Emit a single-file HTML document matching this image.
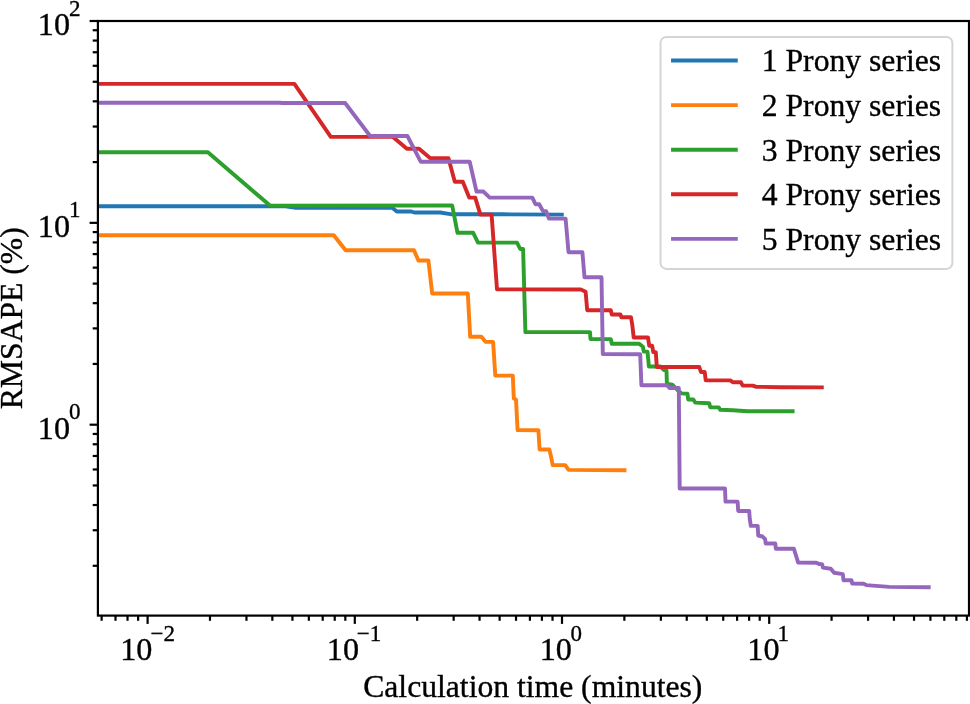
<!DOCTYPE html>
<html><head><meta charset="utf-8"><style>
html,body{margin:0;padding:0;background:#fff;}
svg{display:block;will-change:transform;}
text{font-family:"Liberation Serif", serif;stroke:#000;stroke-width:0.35;paint-order:stroke;}
</style></head><body><svg width="970" height="704" viewBox="0 0 970 704"><rect x="0" y="0" width="970" height="704" fill="#fff"/><defs><clipPath id="ax"><rect x="97.9" y="21.0" width="871.1" height="594.6"/></clipPath></defs><g fill="none" stroke-width="3.9" stroke-linejoin="round" stroke-linecap="square" clip-path="url(#ax)"><polyline stroke="#1f77b4" points="90.0,206.2 285.5,206.2 296.0,207.8 392.2,207.8 396.8,211.5 411.2,211.5 414.3,212.5 440.1,212.5 450.4,214.2 503.0,214.3 561.8,214.6"/><polyline stroke="#ff7f0e" points="90.0,235.2 333.8,235.2 345.6,250.2 414.0,250.3 418.4,260.5 428.4,260.5 432.2,293.5 467.8,293.5 470.2,336.8 481.4,336.8 485.7,341.9 493.1,341.9 495.3,375.5 512.8,375.6 513.8,398.5 516.0,399.6 517.6,430.1 538.4,430.2 539.6,449.5 549.3,449.5 551.0,456.3 552.7,465.1 565.2,465.1 568.6,469.9 624.5,470.3"/><polyline stroke="#2ca02c" points="90.0,152.3 207.9,152.3 270.0,205.6 452.2,205.5 457.5,232.8 473.2,232.8 478.0,242.6 517.0,242.6 520.2,249.0 523.1,249.0 525.4,332.1 590.0,332.1 590.5,339.1 610.8,339.1 611.8,343.8 639.2,343.8 642.9,346.8 643.8,351.6 647.5,351.6 648.9,366.5 660.5,366.5 663.5,369.8 666.5,370.4 666.9,384.0 672.5,384.8 678.0,390.4 681.7,393.4 687.5,393.8 688.2,399.5 693.3,399.5 695.2,402.6 709.2,403.3 710.3,407.3 718.7,407.4 720.3,409.8 732.8,410.3 747.6,411.2 792.6,411.3"/><polyline stroke="#d62728" points="90.0,83.9 294.4,83.9 330.8,136.8 393.0,136.9 406.9,148.8 419.1,148.8 430.3,158.2 448.4,158.1 454.8,181.7 462.8,181.7 469.2,197.5 475.2,197.6 480.4,214.6 491.6,214.6 497.0,289.3 580.8,289.5 585.6,291.7 587.2,310.2 610.8,310.2 611.8,314.5 620.4,314.5 621.4,317.2 631.0,317.2 632.3,325.0 633.7,337.5 648.0,337.5 649.2,345.8 652.2,345.8 653.3,352.1 655.8,352.1 656.8,367.0 699.3,367.0 700.9,372.0 704.7,372.0 705.7,380.3 730.3,380.4 732.8,382.3 741.0,382.3 742.7,385.6 752.7,385.6 755.7,386.7 780.8,387.3 821.8,387.4"/><polyline stroke="#9467bd" points="90.0,102.7 280.0,102.7 282.0,103.0 345.1,103.0 370.1,136.0 407.4,136.0 420.7,161.7 469.7,161.8 476.5,191.5 483.3,191.5 489.7,197.6 532.3,197.6 535.5,204.2 539.2,204.2 543.0,211.1 546.1,211.1 548.9,218.6 565.6,218.6 568.5,252.2 582.4,252.2 584.5,277.3 601.5,277.3 602.8,354.0 640.2,354.2 641.4,385.2 667.2,385.2 669.5,388.0 678.8,388.0 679.7,488.5 725.0,488.5 725.5,501.6 737.6,501.6 738.2,511.0 749.2,511.0 749.7,518.4 750.8,525.9 757.7,525.9 758.2,535.5 762.5,536.5 765.1,539.2 765.7,543.5 775.3,543.5 775.8,548.8 793.9,548.8 798.2,562.6 816.3,562.7 819.5,564.1 822.1,564.1 822.9,567.6 830.8,568.8 834.1,572.8 842.8,574.1 843.5,580.2 851.5,580.2 852.2,583.5 863.6,583.8 866.3,585.1 889.1,586.9 928.7,587.3"/></g><g stroke="#000"><line x1="101.63" y1="615.6" x2="101.63" y2="620.8000000000001" stroke-width="2.2"/><line x1="115.50" y1="615.6" x2="115.50" y2="620.8000000000001" stroke-width="2.2"/><line x1="127.52" y1="615.6" x2="127.52" y2="620.8000000000001" stroke-width="2.2"/><line x1="138.12" y1="615.6" x2="138.12" y2="620.8000000000001" stroke-width="2.2"/><line x1="147.60" y1="615.6" x2="147.60" y2="623.9" stroke-width="2.2"/><line x1="209.97" y1="615.6" x2="209.97" y2="620.8000000000001" stroke-width="2.2"/><line x1="246.46" y1="615.6" x2="246.46" y2="620.8000000000001" stroke-width="2.2"/><line x1="272.35" y1="615.6" x2="272.35" y2="620.8000000000001" stroke-width="2.2"/><line x1="292.43" y1="615.6" x2="292.43" y2="620.8000000000001" stroke-width="2.2"/><line x1="308.83" y1="615.6" x2="308.83" y2="620.8000000000001" stroke-width="2.2"/><line x1="322.70" y1="615.6" x2="322.70" y2="620.8000000000001" stroke-width="2.2"/><line x1="334.72" y1="615.6" x2="334.72" y2="620.8000000000001" stroke-width="2.2"/><line x1="345.32" y1="615.6" x2="345.32" y2="620.8000000000001" stroke-width="2.2"/><line x1="354.80" y1="615.6" x2="354.80" y2="623.9" stroke-width="2.2"/><line x1="417.17" y1="615.6" x2="417.17" y2="620.8000000000001" stroke-width="2.2"/><line x1="453.66" y1="615.6" x2="453.66" y2="620.8000000000001" stroke-width="2.2"/><line x1="479.55" y1="615.6" x2="479.55" y2="620.8000000000001" stroke-width="2.2"/><line x1="499.63" y1="615.6" x2="499.63" y2="620.8000000000001" stroke-width="2.2"/><line x1="516.03" y1="615.6" x2="516.03" y2="620.8000000000001" stroke-width="2.2"/><line x1="529.90" y1="615.6" x2="529.90" y2="620.8000000000001" stroke-width="2.2"/><line x1="541.92" y1="615.6" x2="541.92" y2="620.8000000000001" stroke-width="2.2"/><line x1="552.52" y1="615.6" x2="552.52" y2="620.8000000000001" stroke-width="2.2"/><line x1="562.00" y1="615.6" x2="562.00" y2="623.9" stroke-width="2.2"/><line x1="624.37" y1="615.6" x2="624.37" y2="620.8000000000001" stroke-width="2.2"/><line x1="660.86" y1="615.6" x2="660.86" y2="620.8000000000001" stroke-width="2.2"/><line x1="686.75" y1="615.6" x2="686.75" y2="620.8000000000001" stroke-width="2.2"/><line x1="706.83" y1="615.6" x2="706.83" y2="620.8000000000001" stroke-width="2.2"/><line x1="723.23" y1="615.6" x2="723.23" y2="620.8000000000001" stroke-width="2.2"/><line x1="737.10" y1="615.6" x2="737.10" y2="620.8000000000001" stroke-width="2.2"/><line x1="749.12" y1="615.6" x2="749.12" y2="620.8000000000001" stroke-width="2.2"/><line x1="759.72" y1="615.6" x2="759.72" y2="620.8000000000001" stroke-width="2.2"/><line x1="769.20" y1="615.6" x2="769.20" y2="623.9" stroke-width="2.2"/><line x1="831.57" y1="615.6" x2="831.57" y2="620.8000000000001" stroke-width="2.2"/><line x1="868.06" y1="615.6" x2="868.06" y2="620.8000000000001" stroke-width="2.2"/><line x1="893.95" y1="615.6" x2="893.95" y2="620.8000000000001" stroke-width="2.2"/><line x1="914.03" y1="615.6" x2="914.03" y2="620.8000000000001" stroke-width="2.2"/><line x1="930.43" y1="615.6" x2="930.43" y2="620.8000000000001" stroke-width="2.2"/><line x1="944.30" y1="615.6" x2="944.30" y2="620.8000000000001" stroke-width="2.2"/><line x1="956.32" y1="615.6" x2="956.32" y2="620.8000000000001" stroke-width="2.2"/><line x1="966.92" y1="615.6" x2="966.92" y2="620.8000000000001" stroke-width="2.2"/><line x1="97.9" y1="565.79" x2="92.7" y2="565.79" stroke-width="2.2"/><line x1="97.9" y1="530.24" x2="92.7" y2="530.24" stroke-width="2.2"/><line x1="97.9" y1="505.02" x2="92.7" y2="505.02" stroke-width="2.2"/><line x1="97.9" y1="485.46" x2="92.7" y2="485.46" stroke-width="2.2"/><line x1="97.9" y1="469.48" x2="92.7" y2="469.48" stroke-width="2.2"/><line x1="97.9" y1="455.97" x2="92.7" y2="455.97" stroke-width="2.2"/><line x1="97.9" y1="444.26" x2="92.7" y2="444.26" stroke-width="2.2"/><line x1="97.9" y1="433.94" x2="92.7" y2="433.94" stroke-width="2.2"/><line x1="97.9" y1="424.70" x2="89.60000000000001" y2="424.70" stroke-width="2.2"/><line x1="97.9" y1="363.94" x2="92.7" y2="363.94" stroke-width="2.2"/><line x1="97.9" y1="328.39" x2="92.7" y2="328.39" stroke-width="2.2"/><line x1="97.9" y1="303.17" x2="92.7" y2="303.17" stroke-width="2.2"/><line x1="97.9" y1="283.61" x2="92.7" y2="283.61" stroke-width="2.2"/><line x1="97.9" y1="267.63" x2="92.7" y2="267.63" stroke-width="2.2"/><line x1="97.9" y1="254.12" x2="92.7" y2="254.12" stroke-width="2.2"/><line x1="97.9" y1="242.41" x2="92.7" y2="242.41" stroke-width="2.2"/><line x1="97.9" y1="232.09" x2="92.7" y2="232.09" stroke-width="2.2"/><line x1="97.9" y1="222.85" x2="89.60000000000001" y2="222.85" stroke-width="2.2"/><line x1="97.9" y1="162.09" x2="92.7" y2="162.09" stroke-width="2.2"/><line x1="97.9" y1="126.54" x2="92.7" y2="126.54" stroke-width="2.2"/><line x1="97.9" y1="101.32" x2="92.7" y2="101.32" stroke-width="2.2"/><line x1="97.9" y1="81.76" x2="92.7" y2="81.76" stroke-width="2.2"/><line x1="97.9" y1="65.78" x2="92.7" y2="65.78" stroke-width="2.2"/><line x1="97.9" y1="52.27" x2="92.7" y2="52.27" stroke-width="2.2"/><line x1="97.9" y1="40.56" x2="92.7" y2="40.56" stroke-width="2.2"/><line x1="97.9" y1="30.24" x2="92.7" y2="30.24" stroke-width="2.2"/><line x1="97.9" y1="21.00" x2="89.60000000000001" y2="21.00" stroke-width="2.2"/></g><rect x="97.9" y="21.0" width="871.1" height="594.6" fill="none" stroke="#000" stroke-width="2.2" stroke-linejoin="miter"/><g font-family="Liberation Serif" fill="#000"><text x="37.80" y="34.80" font-size="32.2" text-anchor="start">10</text><text x="69.00" y="15.50" font-size="23.0" text-anchor="start">2</text><text x="37.80" y="236.65" font-size="32.2" text-anchor="start">10</text><text x="69.00" y="217.35" font-size="23.0" text-anchor="start">1</text><text x="37.80" y="438.50" font-size="32.2" text-anchor="start">10</text><text x="69.00" y="419.20" font-size="23.0" text-anchor="start">0</text><text x="120.20" y="660.00" font-size="32.2" text-anchor="start">10</text><text x="150.60" y="640.70" font-size="23.0" text-anchor="start">−2</text><text x="326.80" y="660.00" font-size="32.2" text-anchor="start">10</text><text x="356.80" y="640.70" font-size="23.0" text-anchor="start">−1</text><text x="539.70" y="660.00" font-size="32.2" text-anchor="start">10</text><text x="570.60" y="640.70" font-size="23.0" text-anchor="start">0</text><text x="747.30" y="660.00" font-size="32.2" text-anchor="start">10</text><text x="777.60" y="640.70" font-size="23.0" text-anchor="start">1</text><text x="532.8" y="697.3" font-size="31.65" text-anchor="middle">Calculation time (minutes)</text><text transform="translate(22.0,318.3) rotate(-90)" font-size="31.65" text-anchor="middle">RMSAPE (%)</text></g><rect x="660.5" y="36.9" width="291.9" height="231.99999999999997" rx="6.0" ry="6.0" fill="#fff" fill-opacity="0.8" stroke="#d5d5d5" stroke-width="2.0"/><line x1="673.0" y1="60.50" x2="735.8" y2="60.50" stroke="#1f77b4" stroke-width="3.9" stroke-linecap="square"/><text x="761.8" y="71.30" font-size="31.65" font-family="Liberation Serif" fill="#000">1 Prony series</text><line x1="673.0" y1="105.10" x2="735.8" y2="105.10" stroke="#ff7f0e" stroke-width="3.9" stroke-linecap="square"/><text x="761.8" y="115.90" font-size="31.65" font-family="Liberation Serif" fill="#000">2 Prony series</text><line x1="673.0" y1="149.70" x2="735.8" y2="149.70" stroke="#2ca02c" stroke-width="3.9" stroke-linecap="square"/><text x="761.8" y="160.50" font-size="31.65" font-family="Liberation Serif" fill="#000">3 Prony series</text><line x1="673.0" y1="194.30" x2="735.8" y2="194.30" stroke="#d62728" stroke-width="3.9" stroke-linecap="square"/><text x="761.8" y="205.10" font-size="31.65" font-family="Liberation Serif" fill="#000">4 Prony series</text><line x1="673.0" y1="238.90" x2="735.8" y2="238.90" stroke="#9467bd" stroke-width="3.9" stroke-linecap="square"/><text x="761.8" y="249.70" font-size="31.65" font-family="Liberation Serif" fill="#000">5 Prony series</text></svg></body></html>
